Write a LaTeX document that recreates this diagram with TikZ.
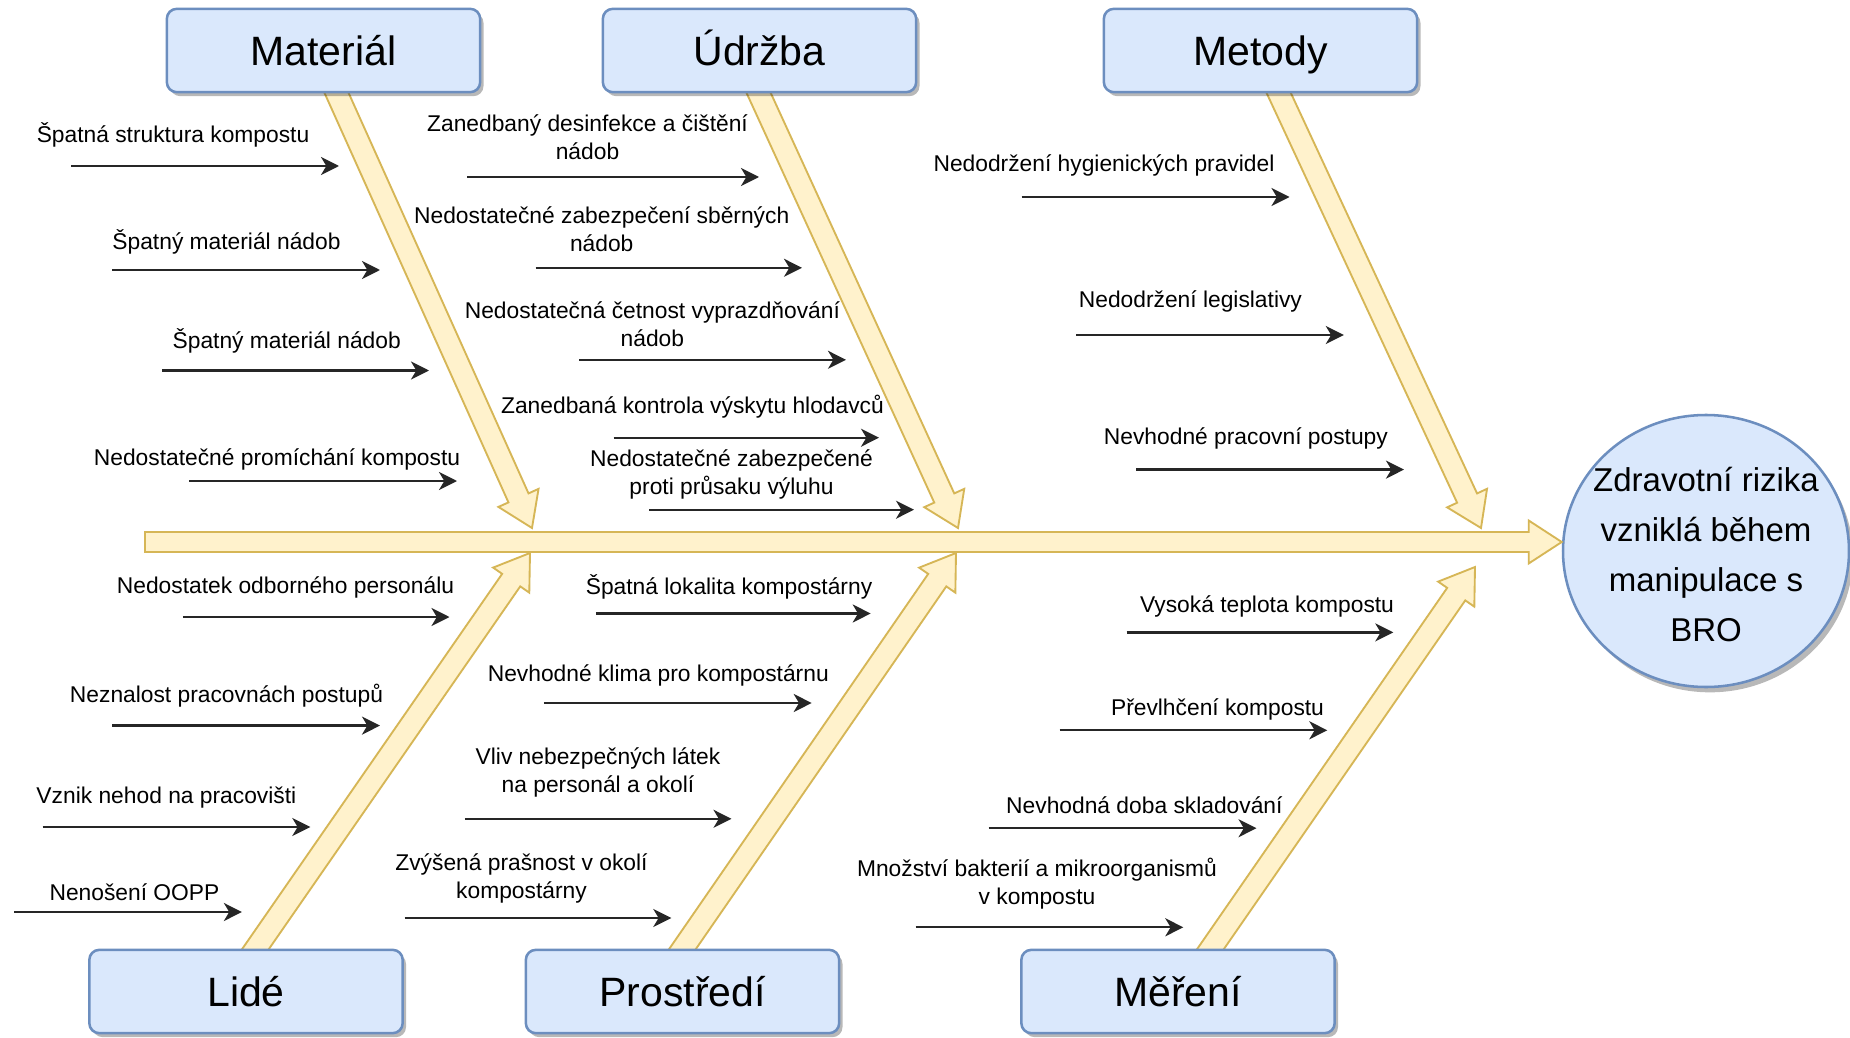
\documentclass[tikz,border=0pt]{standalone}
\usepackage{fontspec}
\setmainfont{Liberation Sans}
\usetikzlibrary{arrows.meta,calc,shapes.geometric,shadows}
\definecolor{boxfill}{HTML}{DAE8FC}
\definecolor{boxline}{HTML}{6C8EBF}
\definecolor{armfill}{HTML}{FFF2CC}
\definecolor{armline}{HTML}{D6B656}
\tikzset{
  catbox/.style={draw=boxline, fill=boxfill, line width=1.9pt, rounded corners=7.5pt,
    minimum width=235pt, minimum height=62.5pt, inner sep=0pt,
    font=\fontsize{30.75pt}{36pt}\selectfont, text height=22pt, text depth=0pt,
    drop shadow={shadow xshift=2.5pt, shadow yshift=-3pt, fill=black, opacity=0.28}},
  effect/.style={ellipse, draw=boxline, fill=boxfill, line width=1.9pt,
    minimum width=214.5pt, minimum height=204pt, inner sep=0pt,
    drop shadow={shadow xshift=3pt, shadow yshift=-4pt, fill=black, opacity=0.28}},
  efftext/.style={inner sep=0pt, align=center,
    font=\fontsize{24.75pt}{37.5pt}\selectfont},
  blockarrow/.style={draw=armline, fill=armfill, line width=1.4pt, line join=miter},
  lbl/.style={font=\fontsize{17.1pt}{21pt}\selectfont, align=center, anchor=base, inner sep=0pt},
  causearrow/.style={line width=1.7pt, draw=black!85,
    -{Stealth[length=13.5pt, width=13.5pt, inset=4pt]}}
}
% block arrow: from, to, shaft half width, head half width, head length
\newcommand{\blockarr}[5]{%
  \coordinate (bah) at ($(#2)!#5!(#1)$);
  \draw[blockarrow] ($(#1)!#3!90:(#2)$) -- ($(bah)!#3!90:(#2)$) -- ($(bah)!#4!90:(#2)$)
    -- (#2) -- ($(bah)!#4!-90:(#2)$) -- ($(bah)!#3!-90:(#2)$) -- ($(#1)!#3!-90:(#2)$) -- cycle;
}
% cause: name, cx, baseline, text, x1, x2, y
\newcommand{\cause}[7]{%
  \node[lbl] (#1) at (#2,#3) {#4};
  \coordinate (#1s) at (#5,#7);
  \coordinate (#1e) at (#6,#7);
  \draw[causearrow] (#1s) -- (#1e);
}
\begin{document}
\begin{tikzpicture}[x=0.75pt,y=-0.75pt]
\useasboundingbox (0,0) rectangle (1850,1038);
\fill[white] (0,0) rectangle (1850,1038);

% effect
\node[effect] (risk) at (1706,551) {};
\node[efftext] (risktext) at (1706,555) {Zdravotní rizika\\vzniklá během\\manipulace s\\BRO};

% spine
\coordinate (sp0) at (145,542);
\coordinate (sp1) at (sp0 -| risk.west);
\blockarr{sp0}{sp1}{7.5pt}{16.1pt}{24.75pt}

% diagonal bones
\coordinate (matS) at (333,85);   \coordinate (matT) at (532,528);
\coordinate (udrS) at (755,85);   \coordinate (udrT) at (958,528);
\coordinate (metS) at (1275,85);  \coordinate (metT) at (1481,528);
\coordinate (lidS) at (250,957);  \coordinate (lidT) at (530,553);
\coordinate (proS) at (677,957);  \coordinate (proT) at (956,553);
\coordinate (merS) at (1205,957); \coordinate (merT) at (1475,567);
\blockarr{matS}{matT}{8.25pt}{16.5pt}{24.75pt}
\blockarr{udrS}{udrT}{8.25pt}{16.5pt}{24.75pt}
\blockarr{metS}{metT}{8.25pt}{16.5pt}{24.75pt}
\blockarr{lidS}{lidT}{8.25pt}{16.5pt}{24.75pt}
\blockarr{proS}{proT}{8.25pt}{16.5pt}{24.75pt}
\blockarr{merS}{merT}{8.25pt}{16.5pt}{24.75pt}

% category boxes
\node[catbox] (mat) at (323.5,50.5) {Materiál};
\node[catbox] (udr) at (759.5,50.5) {Údržba};
\node[catbox] (met) at (1260.5,50.5) {Metody};
\node[catbox] (lid) at (246,991.5) {Lidé};
\node[catbox] (pro) at (682.5,991.5) {Prostředí};
\node[catbox] (mer) at (1178,991.5) {Měření};

% causes: Materiál
\cause{c1}{173}{143}{Špatná struktura kompostu}{71}{339}{166}
\cause{c2}{226.5}{249}{Špatný materiál nádob}{112}{380}{270}
\cause{c3}{286.7}{348}{Špatný materiál nádob}{162}{429}{370.5}
\cause{c4}{277}{465}{Nedostatečné promíchání kompostu}{189}{457}{481}
% Údržba
\cause{c5}{587.5}{160}{Zanedbaný desinfekce a čištění\\nádob}{467}{759}{177}
\cause{c6}{601.7}{252}{Nedostatečné zabezpečení sběrných\\nádob}{535.6}{802}{267.8}
\cause{c7}{652.4}{346}{Nedostatečná četnost vyprazdňování\\nádob}{579}{846}{359.8}
\cause{c8}{692.5}{413}{Zanedbaná kontrola výskytu hlodavců}{613.5}{879}{437.7}
\cause{c9}{731.5}{494}{Nedostatečné zabezpečené\\proti průsaku výluhu}{649}{914}{509.7}
% Metody
\cause{c10}{1104}{172}{Nedodržení hygienických pravidel}{1021.7}{1289.5}{197}
\cause{c11}{1190.4}{307}{Nedodržení legislativy}{1076}{1343.8}{335}
\cause{c12}{1245.9}{444}{Nevhodné pracovní postupy}{1136}{1404}{469.6}
% Lidé
\cause{c13}{285.5}{593}{Nedostatek odborného personálu}{182.9}{449.5}{617}
\cause{c14}{226.5}{702}{Neznalost pracovnách postupů}{112}{380}{725.6}
\cause{c15}{166.4}{803}{Vznik nehod na pracovišti}{42.5}{310.3}{827}
\cause{c16}{134.5}{900}{Nenošení OOPP}{14.2}{241.9}{912}
% Prostředí
\cause{c17}{729}{594}{Špatná lokalita kompostárny}{595.8}{870.7}{613.5}
\cause{c18}{658.3}{681}{Nevhodné klima pro kompostárnu}{543.9}{811.7}{703}
\cause{c19}{598}{792}{Vliv nebezpečných látek\\na personál a okolí}{464.8}{731.5}{818.8}
\cause{c20}{521.5}{898}{Zvýšená prašnost v okolí\\kompostárny}{404.7}{671.3}{918}
% Měření
\cause{c21}{1267}{612}{Vysoká teplota kompostu}{1126.7}{1393.3}{632.4}
\cause{c22}{1217.5}{715}{Převlhčení kompostu}{1059.5}{1327.3}{730.3}
\cause{c23}{1144.4}{813}{Nevhodná doba skladování}{988.7}{1256.5}{828.2}
\cause{c24}{1037}{904}{Množství bakterií a mikroorganismů\\v kompostu}{915.5}{1183.3}{927.3}
\end{tikzpicture}
\end{document}
